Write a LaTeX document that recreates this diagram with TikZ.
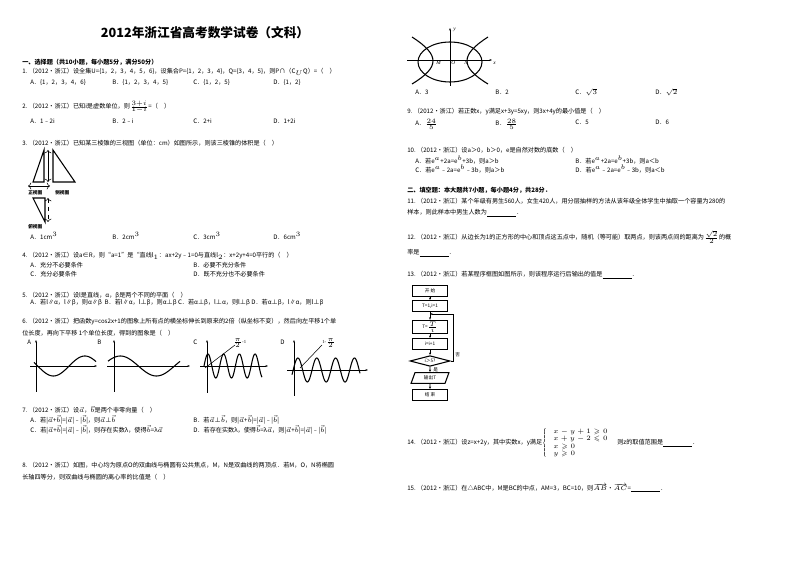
\documentclass[tikz,border=0pt]{standalone}
\usepackage{amssymb}
\usepackage{fontspec}
\setmainfont{Liberation Serif}
\newfontfamily\cjk{Noto Sans CJK SC}
\usetikzlibrary{shapes.geometric,arrows.meta}
\begin{document}
\begin{tikzpicture}[x=0.75pt,y=-0.75pt,
 t/.style={anchor=west,inner sep=0pt,font=\cjk\fontsize{4.6}{5.5}\selectfont},
 fb/.style={draw,thick,minimum width=26,minimum height=8,inner sep=0pt,font=\cjk\fontsize{3.5}{4}\selectfont},
 ar/.style={-{Stealth[length=2pt]},thin}]
\useasboundingbox (0,0) rectangle (800,566);
\node[font=\cjk\bfseries\fontsize{9.5}{11}\selectfont] (title) at (205,33) {2012年浙江省高考数学试卷（文科）};
\node[t,font=\cjk\bfseries\fontsize{4.6}{5.5}\selectfont] (s1) at (22,62) {一、选择题（共10小题，每小题5分，满分50分）};
\node[t] (q1) at (22,72) {1.\ （2012•浙江）设全集U=\{1，2，3，4，5，6\}，设集合P=\{1，2，3，4\}，Q=\{3，4，5\}，则P∩（C$_U$Q）=（\quad ）};
\node[t] (q1a) at (30,83) {A．\{1，2，3，4，6\}};
\node[t] (q1b) at (112,83) {B．\{1，2，3，4，5\}};
\node[t] (q1c) at (193,83) {C．\{1，2，5\}};
\node[t] (q1d) at (273,83) {D．\{1，2\}};
\node[t] (q2) at (22,107) {2.\ （2012•浙江）已知i是虚数单位，则$\scriptstyle\frac{3+i}{1-i}$=（\quad ）};
\node[t] (q2a) at (30,121) {A．1﹣2i};
\node[t] (q2b) at (112,121) {B．2﹣i};
\node[t] (q2c) at (193,121) {C．2+i};
\node[t] (q2d) at (273,121) {D．1+2i};
\node[t] (q3) at (22,143) {3.\ （2012•浙江）已知某三棱锥的三视图（单位：cm）如图所示，则该三棱锥的体积是（\quad ）};
% three views
\draw[thick] (33,182)--(44,150)--(44,182)--cycle;
\draw[thick] (53,150)--(53,182)--(75,182)--cycle;
\draw[thin,<->] (48,150)--(48,182);
\draw[thin,<->] (28,186)--(50,186);
\node[t,font=\cjk\bfseries\fontsize{3.5}{4}\selectfont] (v1) at (28,193) {正视图};
\node[t,font=\cjk\bfseries\fontsize{3.5}{4}\selectfont] (v2) at (55,193) {侧视图};
\draw[thick] (33,198)--(45,198)--(45,222)--cycle;
\draw[thin,dashed,<->] (48,198)--(48,222);
\node[t,font=\cjk\bfseries\fontsize{3.5}{4}\selectfont] (v3) at (28,227) {俯视图};
\node[t] (q3a) at (30,236) {A．1cm$^{\scriptscriptstyle 3}$};
\node[t] (q3b) at (112,236) {B．2cm$^{\scriptscriptstyle 3}$};
\node[t] (q3c) at (193,236) {C．3cm$^{\scriptscriptstyle 3}$};
\node[t] (q3d) at (273,236) {D．6cm$^{\scriptscriptstyle 3}$};
\node[t] (q4) at (22,256) {4.\ （2012•浙江）设a∈R，则“a=1”是“直线l$_1$：ax+2y﹣1=0与直线l$_2$：x+2y+4=0平行的（\quad ）};
\node[t] (q4a) at (30,265) {A．充分不必要条件};
\node[t] (q4b) at (193,265) {B．必要不充分条件};
\node[t] (q4c) at (30,274) {C．充分必要条件};
\node[t] (q4d) at (193,274) {D．既不充分也不必要条件};
\node[t] (q5) at (22,295) {5.\ （2012•浙江）设l是直线，α，β是两个不同的平面（\quad ）};
\node[t] (q5a) at (30,303) {A．若l∥α，l∥β，则α∥β\ \ B．若l∥α，l⊥β，则α⊥β\ C．若α⊥β，l⊥α，则l⊥β\ D．若α⊥β，l∥α，则l⊥β};
\node[t] (q6) at (22,322) {6.\ （2012•浙江）把函数y=cos2x+1的图象上所有点的横坐标伸长到原来的2倍（纵坐标不变），然后向左平移1个单};
\node[t] (q6b) at (22,333) {位长度，再向下平移\ 1个单位长度，得到的图象是（\quad ）};
% graphs
\node[t] (gA) at (27,342) {A};
\node[t] (gB) at (97,342) {B};
\node[t] (gC) at (193,342) {C};
\node[t] (gD) at (280,342) {D};
\draw[ar] (30,366)--(97,366); \draw[ar] (36,392)--(36,340);
\draw[thick,domain=0:62,samples=60] plot ({34+\x},{366-10*cos(deg(\x/10+1.2))});
\draw[ar] (107,366)--(190,366); \draw[ar] (114,392)--(114,340);
\draw[thick,domain=0:72,samples=60] plot ({108+\x},{366-10*sin(deg(\x/11.5+0.5))});
\draw[ar] (200,366)--(268,366); \draw[ar] (207,393)--(207,340);
\draw[thick,domain=0:58,samples=120] plot ({204+\x},{366-12*sin(deg(\x/2.5))});
\draw[thin] (205,368)--(235,345);
\draw[ar] (287,370)--(368,370); \draw[ar] (294,396)--(294,340);
\draw[thick,domain=0:68,samples=120] plot ({292+\x},{370-12*sin(deg(\x/3-0.4))});
\draw[thin] (300,368)--(322,345);
\node[t,font=\fontsize{3.5}{4}\selectfont] (lc) at (233,343) {$\scriptscriptstyle\frac{\pi}{2}$-1};
\node[t,font=\fontsize{3.5}{4}\selectfont] (ld) at (322,343) {1-$\scriptscriptstyle\frac{\pi}{2}$};
\node[t] (q7) at (22,410) {7.\ （2012•浙江）设$\vec{a}$，$\vec{b}$是两个非零向量（\quad ）};
\node[t] (q7a) at (30,420) {A．若|$\vec a$+$\vec b$|=|$\vec a$|﹣|$\vec b$|，则$\vec a$⊥$\vec b$};
\node[t] (q7b) at (193,420) {B．若$\vec a$⊥$\vec b$，则|$\vec a$+$\vec b$|=|$\vec a$|﹣|$\vec b$|};
\node[t] (q7c) at (30,430) {C．若|$\vec a$+$\vec b$|=|$\vec a$|﹣|$\vec b$|，则存在实数λ，使得$\vec b$=λ$\vec a$};
\node[t] (q7d) at (193,430) {D．若存在实数λ，使得$\vec b$=λ$\vec a$，则|$\vec a$+$\vec b$|=|$\vec a$|﹣|$\vec b$|};
\node[t] (q8) at (22,465) {8.\ （2012•浙江）如图，中心均为原点O的双曲线与椭圆有公共焦点，M，N是双曲线的两顶点．若M，O，N将椭圆};
\node[t] (q8b) at (22,477) {长轴四等分，则双曲线与椭圆的离心率的比值是（\quad ）};
% ellipse figure
\draw[thick] (450,62) ellipse (32 and 20);
\draw[ar] (407,60)--(492,60);
\draw[ar] (450,86)--(450,28);
\draw[thick] (412,37) .. controls (440,55) and (440,67) .. (412,84);
\draw[thick] (488,37) .. controls (460,55) and (460,67) .. (488,84);
\node[t,font=\itshape\fontsize{4}{5}\selectfont] (ly) at (453,30) {y};
\node[t,font=\itshape\fontsize{4}{5}\selectfont] (lx) at (493,63) {x};
\node[t,font=\itshape\fontsize{4}{5}\selectfont] (lM) at (436,63) {M};
\node[t,font=\itshape\fontsize{4}{5}\selectfont] (lO) at (451,63) {O};
\node[t,font=\itshape\fontsize{4}{5}\selectfont] (lN) at (464,63) {N};
\node[t] (q8a) at (415,92) {A．3};
\node[t] (q8bb) at (495,92) {B．2};
\node[t] (q8c) at (575,92) {C．$\scriptstyle\sqrt{3}$};
\node[t] (q8d) at (655,92) {D．$\scriptstyle\sqrt{2}$};
\node[t] (q9) at (407,112) {9.\ （2012•浙江）若正数x，y满足x+3y=5xy，则3x+4y的最小值是（\quad ）};
\node[t] (q9a) at (415,124) {A．$\scriptstyle\frac{24}{5}$};
\node[t] (q9b) at (495,124) {B．$\scriptstyle\frac{28}{5}$};
\node[t] (q9c) at (575,122) {C．5};
\node[t] (q9d) at (655,122) {D．6};
\node[t] (q10) at (407,150) {10.\ （2012•浙江）设a＞0，b＞0，e是自然对数的底数（\quad ）};
\node[t] (q10a) at (415,160) {A．若e$^{\scriptscriptstyle a}$+2a=e$^{\scriptscriptstyle b}$+3b，则a＞b};
\node[t] (q10b) at (575,160) {B．若e$^{\scriptscriptstyle a}$+2a=e$^{\scriptscriptstyle b}$+3b，则a＜b};
\node[t] (q10c) at (415,169) {C．若e$^{\scriptscriptstyle a}$﹣2a=e$^{\scriptscriptstyle b}$﹣3b，则a＞b};
\node[t] (q10d) at (575,169) {D．若e$^{\scriptscriptstyle a}$﹣2a=e$^{\scriptscriptstyle b}$﹣3b，则a＜b};
\node[t,font=\cjk\bfseries\fontsize{4.6}{5.5}\selectfont] (s2) at (407,190) {二、填空题：本大题共7小题，每小题4分，共28分．};
\node[t] (q11) at (407,201) {11.\ （2012•浙江）某个年级有男生560人，女生420人，用分层抽样的方法从该年级全体学生中抽取一个容量为280的};
\node[t] (q11b) at (407,213) {样本，则此样本中男生人数为\underline{\hspace{22pt}}．};
\node[t] (q12) at (407,237) {12.\ （2012•浙江）从边长为1的正方形的中心和顶点这五点中，随机（等可能）取两点，则该两点间的距离为$\scriptstyle\frac{\sqrt2}{2}$的概};
\node[t] (q12b) at (407,253) {率是\underline{\hspace{22pt}}．};
\node[t] (q13) at (407,275) {13.\ （2012•浙江）若某程序框图如图所示，则该程序运行后输出的值是\underline{\hspace{22pt}}．};
% flowchart
\node[fb] (f1) at (430,291) {开\ 始};
\node[fb] (f2) at (430,306) {T=1,i=1};
\node[fb,minimum height=10] (f3) at (430,327) {T=$\scriptscriptstyle\frac{T}{i}$};
\node[fb] (f4) at (430,344) {i=i+1};
\node[fb,diamond,aspect=3.5,minimum width=30,minimum height=8] (f5) at (430,361) {i＞5?};
\node[fb,trapezium,trapezium left angle=70,trapezium right angle=110,minimum width=20] (f6) at (430,378) {输出T};
\node[fb] (f7) at (430,395) {结\ 束};
\draw[ar] (f1)--(f2); \draw[ar] (f2)--(f3); \draw[ar] (f3)--(f4); \draw[ar] (f4)--(f5);
\draw[ar] (f5)--(f6); \draw[ar] (f6)--(f7);
\coordinate (r1) at (453,361); \coordinate (r2) at (453,314); \coordinate (r3) at (430,314);
\draw[ar] (f5.east)--(r1)--(r2)--(r3);
\node[t,font=\cjk\fontsize{3.5}{4}\selectfont] (no) at (455,355) {否};
\node[t,font=\cjk\fontsize{3.5}{4}\selectfont] (yes) at (433,370) {是};
\node[t] (q14) at (407,443) {14.\ （2012•浙江）设z=x+2y，其中实数x，y满足$\scriptstyle\left\{\begin{array}{l}x-y+1\geqslant0\\ x+y-2\leqslant0\\ x\geqslant0\\ y\geqslant0\end{array}\right.$\ 则z的取值范围是\underline{\hspace{22pt}}．};
\node[t] (q15) at (407,488) {15.\ （2012•浙江）在△ABC中，M是BC的中点，AM=3，BC=10，则$\scriptstyle\overrightarrow{AB}$•$\scriptstyle\overrightarrow{AC}$=\underline{\hspace{22pt}}．};
\end{tikzpicture}
\end{document}
